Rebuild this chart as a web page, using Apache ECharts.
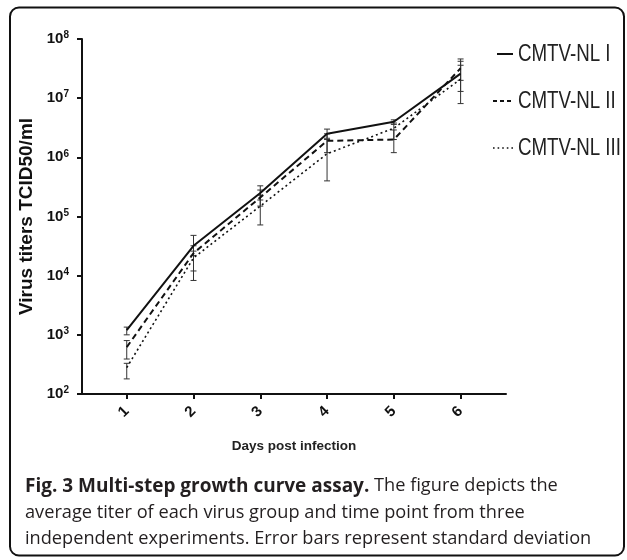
<!doctype html>
<html lang="en">
  <head>
    <meta charset="UTF-8" />
    <title>Multi-step growth curve assay</title>
    <script src="https://cdn.jsdelivr.net/npm/echarts@6/dist/echarts.min.js"></script>
    <style>
      html, body { margin: 0; padding: 0; background: #fff; }
      #main { width: 627px; height: 560px; }
    </style>
  </head>
  <body>
    <div id="main"></div>
    <script>
      // days post infection
      const days = [1, 2, 3, 4, 5, 6];

      // mean titers (TCID50/ml)
      const meanI = [1200, 32000, 250000, 2500000, 4000000, 26000000];
      const meanII = [620, 24000, 210000, 1900000, 2000000, 32000000];
      const meanIII = [280, 20000, 150000, 1150000, 3100000, 21000000];

      // error bar ends (mean +/- SD)
      const lowI = [1000, 22000, 190000, 2100000, 3600000, 20000000];
      const highI = [1350, 48000, 330000, 3000000, 4300000, 46000000];
      const lowII = [390, 12000, 150000, 1200000, 1200000, 13000000];
      const highII = [800, 32000, 280000, 2500000, 2900000, 42000000];
      const lowIII = [180, 8300, 72000, 400000, 2000000, 8100000];
      const highIII = [330, 26000, 230000, 2000000, 3800000, 36000000];

      const seriesNames = ["CMTV-NL I", "CMTV-NL II", "CMTV-NL III"];
      const yTicks = [100, 1000, 10000, 100000, 1000000, 10000000, 100000000];

      const chart = echarts.init(document.getElementById("main"));

      function pairs(values) {
        return days.map((d, i) => [d, values[i]]);
      }

      function errData(low, high) {
        return days.map((d, i) => [d, low[i], high[i]]);
      }

      // vertical error bar with small caps
      function renderErr(params, api) {
        const x = api.value(0);
        const lo = api.coord([x, api.value(1)]);
        const hi = api.coord([x, api.value(2)]);
        const w = 3;
        const style = { stroke: "#333", lineWidth: 1 };
        return {
          type: "group",
          children: [
            { type: "line", shape: { x1: lo[0], y1: lo[1], x2: hi[0], y2: hi[1] }, style: style },
            { type: "line", shape: { x1: lo[0] - w, y1: lo[1], x2: lo[0] + w, y2: lo[1] }, style: style },
            { type: "line", shape: { x1: hi[0] - w, y1: hi[1], x2: hi[0] + w, y2: hi[1] }, style: style },
          ],
        };
      }

      const lineColor = "#111";
      const styles = [
        { type: "solid", width: 2 },
        { type: [6, 4], width: 2 },
        { type: [2, 3], width: 1.6 },
      ];
      const means = [meanI, meanII, meanIII];
      const errs = [errData(lowI, highI), errData(lowII, highII), errData(lowIII, highIII)];

      const series = [];
      errs.forEach((e) => {
        series.push({
          type: "custom",
          renderItem: renderErr,
          data: e,
          z: 1,
          silent: true,
          encode: { x: 0, y: [1, 2] },
        });
      });
      means.forEach((m, i) => {
        series.push({
          name: seriesNames[i],
          type: "line",
          data: pairs(m),
          showSymbol: false,
          symbol: "none",
          z: 3,
          lineStyle: { color: lineColor, width: styles[i].width, type: styles[i].type },
          itemStyle: { color: lineColor },
        });
      });

      // hand-drawn legend on the right (narrow font, short line samples)
      const legendY = [54, 101, 148];
      const legendGraphics = [];
      seriesNames.forEach((name, i) => {
        legendGraphics.push({
          type: "line",
          shape: { x1: i === 0 ? 497 : 493, y1: legendY[i], x2: 513, y2: legendY[i] },
          style: {
            stroke: "#111",
            lineWidth: i === 2 ? 1.6 : 2,
            lineDash: i === 0 ? null : i === 1 ? [4, 3] : [1.6, 3],
          },
          silent: true,
        });
        legendGraphics.push({
          type: "text",
          x: 518,
          y: legendY[i],
          scaleX: 0.78,
          style: {
            text: name,
            font: '24px "Liberation Sans", Arial, sans-serif',
            fill: "#222",
            textVerticalAlign: "middle",
            verticalAlign: "middle",
          },
          silent: true,
        });
      });

      const supMap = { 2: "2", 3: "3", 4: "4", 5: "5", 6: "6", 7: "7", 8: "8" };

      const option = {
        animation: false,
        backgroundColor: "#fff",
        textStyle: { fontFamily: "Liberation Sans, Arial, sans-serif" },
        grid: { left: 82, right: 121, top: 39, bottom: 166 },
        xAxis: {
          type: "value",
          min: 0.33,
          max: 6.68,
          name: "Days post infection",
          nameLocation: "middle",
          nameGap: 45,
          nameTextStyle: { fontSize: 13.5, fontWeight: "bold", color: "#222" },
          splitLine: { show: false },
          axisLine: { lineStyle: { color: "#111", width: 2 } },
          axisTick: {
            customValues: days,
            inside: false,
            length: 5,
            lineStyle: { color: "#111", width: 2 },
          },
          axisLabel: {
            customValues: days,
            rotate: 45,
            margin: 15,
            fontSize: 15,
            fontWeight: "bold",
            color: "#111",
          },
        },
        yAxis: {
          type: "log",
          logBase: 10,
          min: 100,
          max: 100000000,
          name: "Virus titers TCID50/ml",
          nameLocation: "middle",
          nameGap: 45,
          nameTextStyle: { fontSize: 19, fontWeight: "bold", color: "#111" },
          splitLine: { show: false },
          axisLine: { show: true, lineStyle: { color: "#111", width: 2 } },
          axisTick: {
            customValues: yTicks,
            inside: false,
            length: 5,
            lineStyle: { color: "#111", width: 2 },
          },
          axisLabel: {
            customValues: yTicks,
            margin: 13,
            formatter: function (v) {
              const e = Math.round(Math.log10(v));
              return "{b|10}{s|" + supMap[e] + "}";
            },
            rich: {
              b: { fontSize: 15, fontWeight: "bold", color: "#111" },
              s: { fontSize: 10, fontWeight: "bold", color: "#111", verticalAlign: "top", padding: [0, 0, 7, 0] },
            },
          },
        },
        graphic: [
          {
            type: "rect",
            shape: { x: 10, y: 7.5, width: 614, height: 548, r: 9 },
            style: { fill: "none", stroke: "#111", lineWidth: 2 },
            silent: true,
          },
          {
            type: "text",
            left: 25,
            top: 473,
            style: {
              text:
                "{b|Fig. 3 Multi-step growth curve assay.} The figure depicts the\n" +
                "average titer of each virus group and time point from three\n" +
                "independent experiments. Error bars represent standard deviation",
              font: '18.2px "Open Sans", sans-serif',
              fill: "#231f20",
              lineHeight: 26.5,
              rich: {
                b: { fontWeight: "bold", fontSize: 19, fontFamily: "Open Sans", fill: "#231f20" },
              },
            },
          },
        ].concat(legendGraphics),
        series: series,
      };

      chart.setOption(option);
    </script>
  </body>
</html>
